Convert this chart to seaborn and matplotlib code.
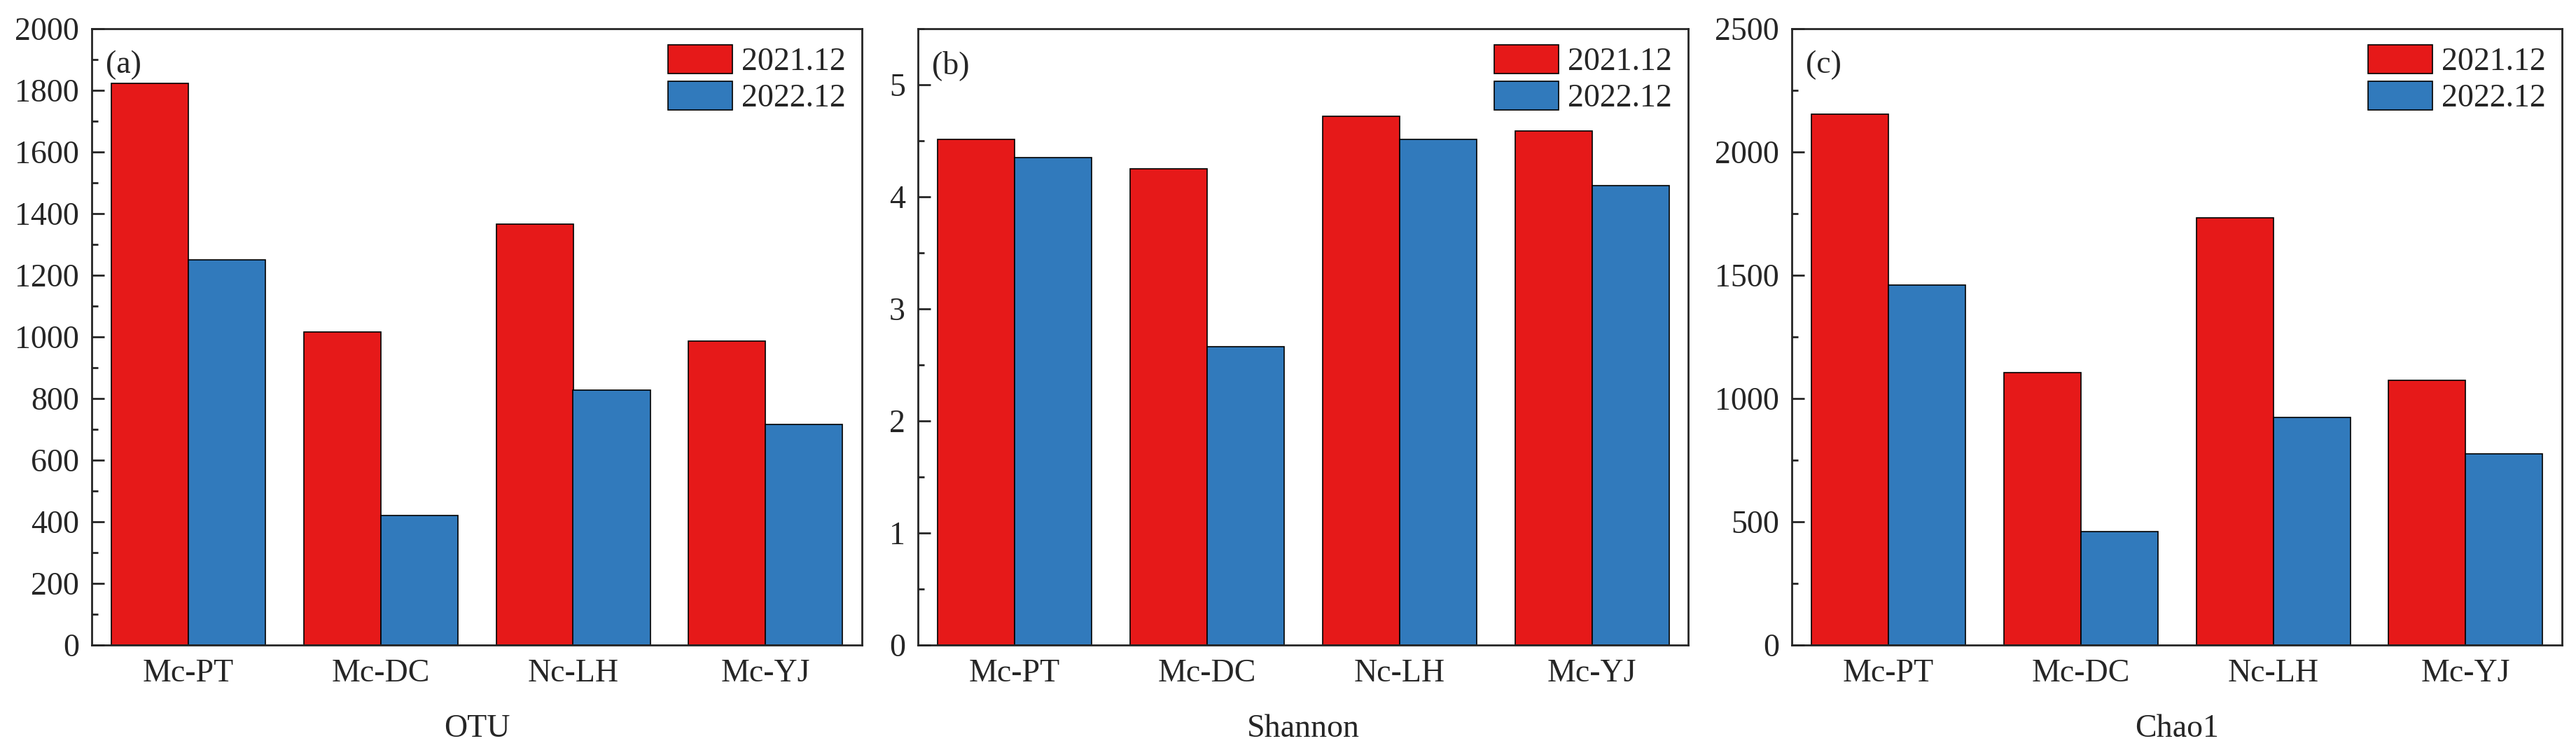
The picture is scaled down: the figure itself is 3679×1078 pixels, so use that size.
import numpy as np
import pandas as pd
import seaborn as sns
import matplotlib.pyplot as plt
from matplotlib.ticker import MultipleLocator

# sites and sampling periods
sites = ["Mc-PT", "Mc-DC", "Nc-LH", "Mc-YJ"]
periods = ["2021.12", "2022.12"]

# values
otu_2021 = [1822, 1016, 1367, 986]
otu_2022 = [1250, 420, 827, 717]
shannon_2021 = [4.51, 4.25, 4.72, 4.59]
shannon_2022 = [4.35, 2.66, 4.51, 4.10]
chao1_2021 = [2154, 1105, 1734, 1074]
chao1_2022 = [1459, 461, 924, 775]

colors = {"2021.12": "#E61919", "2022.12": "#317ABC"}

sns.set_style("ticks")
plt.rcParams["font.family"] = ["Liberation Serif", "DejaVu Serif"]
FS = 33


def long_df(v1, v2):
    return pd.DataFrame({
        "site": sites * 2,
        "period": [periods[0]] * 4 + [periods[1]] * 4,
        "value": list(v1) + list(v2),
    })


panels = [
    ("(a)", "OTU", long_df(otu_2021, otu_2022), 2000, 200, 100),
    ("(b)", "Shannon", long_df(shannon_2021, shannon_2022), 5.5, 1, 0.5),
    ("(c)", "Chao1", long_df(chao1_2021, chao1_2022), 2500, 500, 250),
]

fig = plt.figure(figsize=(36.79, 10.78), dpi=100)
lefts = [131 / 3679, 1311 / 3679, 2559 / 3679]
w = 1100 / 3679
b = 1 - 921 / 1078
h = 880 / 1078

for left, (tag, name, df, ymax, major, minor) in zip(lefts, panels):
    ax = fig.add_axes([left, b, w, h])
    sns.barplot(data=df, x="site", y="value", hue="period", palette=colors,
                saturation=1, edgecolor="black", linewidth=1.2, ax=ax)
    ax.set_ylim(0, ymax)
    ax.set_xlim(-0.5, 3.5)
    ax.yaxis.set_major_locator(MultipleLocator(major))
    ax.yaxis.set_minor_locator(MultipleLocator(minor))
    ax.tick_params(axis="y", which="major", direction="in", length=13, width=2, labelsize=FS, pad=13)
    ax.tick_params(axis="y", which="minor", direction="in", length=6.5, width=2)
    ax.tick_params(axis="x", length=0, labelsize=FS, pad=14)
    for s in ax.spines.values():
        s.set_visible(True)
        s.set_linewidth(2)
    ax.set_ylabel("")
    ax.set_xlabel(name, fontsize=FS, labelpad=26)
    ax.text(0.018, 0.965, tag, transform=ax.transAxes, ha="left", va="top", fontsize=FS)
    handles, labels = ax.get_legend_handles_labels()
    ax.legend(handles, labels, loc="upper right", frameon=False, fontsize=FS,
              handlelength=2.0, handleheight=1.0, handletextpad=0.3,
              labelspacing=0.13, borderaxespad=0.3, borderpad=0.2)

fig.savefig("out.png", dpi=100, facecolor="white")
